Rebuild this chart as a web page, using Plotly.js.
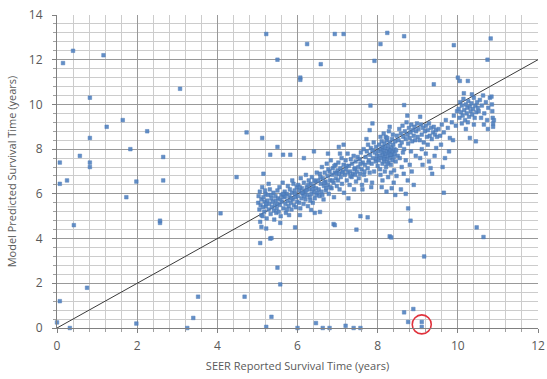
<!DOCTYPE html>
<html>
<head>
<meta charset="utf-8">
<script src="https://cdn.plot.ly/plotly-3.0.1.min.js"></script>
<style>html,body{margin:0;padding:0;background:#fff;}#chart{width:547px;height:379px;}</style>
</head>
<body>
<div id="chart"></div>
<script>
// Main cluster of patients (SEER reported, model predicted), years
const clusterPts = [
[5.02,5.6],[5.03,5.9],[5.05,5.3],[5.06,6.1],[5.08,5.5],[5.1,5.75],[5.1,5.05],[5.12,6.3],[5.14,5.4],[5.15,5.85],[5.17,5.2],[5.18,5.65],[5.2,6.0],[5.21,5.45],[5.23,4.9],[5.25,5.7],[5.26,5.95],[5.28,5.3],[5.3,5.55],[5.31,6.2],[5.33,5.1],[5.35,5.8],[5.36,5.4],[5.38,5.65],[5.4,6.05],[5.41,5.25],[5.43,5.5],[5.45,5.9],[5.46,5.7],[5.48,5.35],[5.5,6.15],[5.5,5.55],[5.07,4.75],[5.28,6.45],[5.42,4.85],[5.13,5.0],[5.22,5.55],[5.34,5.95],[5.47,5.15],[5.19,6.15],
[5.52,5.8],[5.53,5.2],[5.55,6.3],[5.56,5.5],[5.58,5.0],[5.6,5.95],[5.61,5.65],[5.63,6.5],[5.65,5.35],[5.66,5.85],[5.68,6.1],[5.7,5.55],[5.71,5.15],[5.73,6.0],[5.75,5.7],[5.76,6.35],[5.78,5.45],[5.8,5.9],[5.81,6.2],[5.83,5.6],[5.85,5.3],[5.86,6.05],[5.88,5.75],[5.9,6.45],[5.91,5.5],[5.93,6.15],[5.95,5.85],[5.96,5.4],[5.98,6.3],[5.99,5.65],[5.57,5.75],[5.69,5.9],[5.79,5.05],[5.87,6.6],[5.64,6.0],[5.74,5.3],[5.84,5.8],[5.94,6.0],
[6.01,5.9],[6.02,6.4],[6.04,5.6],[6.05,6.15],[6.07,5.35],[6.08,6.7],[6.1,5.8],[6.11,6.25],[6.13,6.0],[6.15,5.55],[6.16,6.5],[6.18,6.1],[6.2,5.75],[6.21,6.85],[6.23,6.3],[6.25,5.95],[6.26,5.45],[6.28,6.6],[6.3,6.2],[6.31,5.85],[6.33,6.45],[6.35,6.0],[6.36,6.75],[6.38,5.6],[6.4,6.35],[6.41,6.1],[6.43,5.8],[6.45,6.55],[6.46,6.25],[6.48,6.95],[6.5,6.05],[6.12,6.05],[6.22,6.15],[6.32,5.7],[6.42,6.6],[6.06,6.3],[6.17,5.9],[6.27,6.4],[6.37,6.2],[6.47,5.95],
[6.52,6.6],[6.53,6.2],[6.55,5.9],[6.56,6.9],[6.58,6.45],[6.6,6.1],[6.61,7.2],[6.63,6.7],[6.65,5.75],[6.66,6.35],[6.68,6.95],[6.7,6.55],[6.71,6.15],[6.73,7.35],[6.75,6.8],[6.76,6.4],[6.78,6.0],[6.8,7.0],[6.81,6.6],[6.83,7.5],[6.85,6.25],[6.86,6.85],[6.88,7.15],[6.9,6.5],[6.91,5.85],[6.93,6.95],[6.95,7.3],[6.96,6.7],[6.98,6.35],[7.0,7.05],[6.57,6.75],[6.67,6.5],[6.77,7.1],[6.87,6.6],[6.97,6.9],[6.62,5.95],[6.72,6.25],[6.82,6.3],[6.92,7.25],
[7.01,6.6],[7.02,7.4],[7.04,6.9],[7.05,6.2],[7.07,7.15],[7.08,6.75],[7.1,7.6],[7.11,6.45],[7.13,7.0],[7.15,7.3],[7.16,6.05],[7.18,6.85],[7.2,7.5],[7.21,7.1],[7.23,6.6],[7.25,7.8],[7.26,6.95],[7.28,7.25],[7.3,6.4],[7.31,7.0],[7.33,7.55],[7.35,6.75],[7.36,7.35],[7.38,6.9],[7.4,7.7],[7.41,6.2],[7.43,7.15],[7.45,7.45],[7.46,6.55],[7.48,7.0],[7.5,7.65],[7.12,6.95],[7.22,7.25],[7.32,6.8],[7.42,7.1],[7.06,7.8],[7.27,5.8],[7.44,6.85],
[7.52,7.2],[7.53,6.7],[7.55,7.55],[7.56,6.9],[7.58,7.85],[7.6,7.1],[7.61,6.4],[7.63,7.4],[7.65,8.0],[7.66,6.85],[7.68,7.3],[7.7,7.65],[7.71,6.6],[7.73,7.9],[7.75,7.15],[7.76,8.2],[7.78,7.5],[7.8,6.95],[7.81,7.75],[7.83,8.05],[7.85,7.35],[7.86,6.5],[7.88,7.6],[7.9,8.3],[7.91,7.0],[7.93,7.85],[7.95,7.45],[7.96,8.1],[7.98,7.7],[8.0,7.25],[7.57,7.35],[7.67,7.0],[7.77,7.4],[7.87,7.95],[7.97,7.55],[7.62,6.2],[7.84,6.3],[7.72,8.45],
[8.02,7.9],[8.03,7.5],[8.04,8.2],[8.05,7.7],[8.06,7.1],[8.08,8.0],[8.09,7.6],[8.1,8.35],[8.11,7.85],[8.12,7.35],[8.13,8.1],[8.14,7.75],[8.15,7.95],[8.16,7.45],[8.17,8.25],[8.18,7.65],[8.19,8.05],[8.2,7.8],[8.21,7.2],[8.22,8.4],[8.23,7.55],[8.24,7.9],[8.25,8.15],[8.26,7.7],[8.27,7.4],[8.28,8.0],[8.29,7.85],[8.3,8.3],[8.31,7.6],[8.32,7.95],[8.33,7.3],[8.34,8.1],[8.35,7.75],[8.36,8.45],[8.37,7.5],[8.38,7.9],[8.39,8.2],[8.4,7.65],[8.41,7.05],[8.42,8.0],[8.43,7.8],[8.44,8.35],[8.45,7.45],[8.46,7.95],[8.48,8.6],[8.5,7.7],[8.07,6.85],[8.12,6.6],[8.18,7.0],[8.26,6.75],[8.33,6.95],[8.4,6.5],[8.47,6.8],[8.15,8.7],[8.28,8.8],[8.38,8.65],[8.1,6.3],[8.22,6.1],[8.35,6.25],[8.44,5.95],[8.16,7.55],[8.24,7.35],[8.32,7.75],[8.2,8.55],
[8.52,8.4],[8.54,8.9],[8.56,8.15],[8.58,8.7],[8.6,8.3],[8.62,9.05],[8.64,8.55],[8.66,8.0],[8.68,8.8],[8.7,8.45],[8.72,9.2],[8.74,8.65],[8.76,8.25],[8.78,8.95],[8.8,8.5],[8.82,8.75],[8.84,9.1],[8.86,8.35],[8.88,8.85],[8.9,8.6],[8.92,9.0],[8.94,8.4],[8.96,8.8],[8.98,9.15],[9.0,8.55],[8.55,7.6],[8.6,7.2],[8.65,6.9],[8.7,7.5],[8.75,6.6],[8.8,7.3],[8.85,7.0],[8.9,6.4],[8.95,7.7],[8.58,6.2],[8.7,6.0],[8.83,7.9],[8.63,7.85],
[9.02,8.9],[9.05,8.4],[9.08,9.1],[9.1,8.65],[9.13,8.95],[9.15,8.3],[9.18,8.8],[9.2,9.05],[9.23,8.55],[9.25,8.85],[9.28,9.15],[9.3,8.6],[9.33,8.95],[9.35,8.45],[9.38,8.75],[9.4,9.0],[9.43,8.65],[9.45,8.85],[9.48,8.55],[9.06,7.6],[9.12,7.3],[9.2,7.8],[9.28,7.45],[9.32,7.15],[9.36,6.9],[9.42,7.7],[9.46,8.05],[9.1,8.0],[9.25,8.2],
[9.52,8.9],[9.56,8.6],[9.6,9.1],[9.65,8.75],[9.7,9.3],[9.75,8.95],[9.8,8.5],[9.85,9.2],[9.9,9.5],[9.95,9.05],[9.58,8.2],[9.68,7.6],[9.78,7.9],[9.88,8.4],[9.62,7.2],[9.98,9.7],
[10.02,9.8],[10.04,9.4],[10.06,10.1],[10.08,9.65],[10.1,9.95],[10.12,9.5],[10.14,10.25],[10.16,9.75],[10.18,9.3],[10.2,10.0],[10.22,9.6],[10.24,9.85],[10.26,10.15],[10.28,9.45],[10.3,9.9],[10.32,9.7],[10.34,10.05],[10.36,9.55],[10.38,9.8],[10.4,10.3],[10.42,9.4],[10.44,9.95],[10.46,9.65],[10.48,10.1],[10.5,9.85],[10.1,9.15],[10.2,8.9],[10.3,8.5],[10.4,9.1],[10.45,8.35],[10.15,10.5],[10.35,10.45],[10.25,9.2],
[10.52,9.7],[10.55,10.2],[10.58,9.4],[10.6,9.95],[10.63,10.4],[10.66,9.6],[10.7,10.1],[10.73,9.3],[10.76,9.85],[10.8,10.3],[10.84,10.35],[10.85,10.0],[10.86,9.7],[10.87,9.4],[10.88,9.15],[10.88,9.0],[10.9,9.3],[10.65,9.1],[10.75,8.9]
];
// Scattered patients away from the main cluster
const outlierPts = [
[0.15,11.85],[0.4,12.4],[1.16,12.2],[0.82,10.3],[3.07,10.7],[1.64,9.3],[1.24,9.0],[2.25,8.8],[0.82,8.5],[1.83,8.0],[0.57,7.7],[0.07,7.4],[0.82,7.4],[0.82,7.2],[2.65,7.65],[0.25,6.6],[0.07,6.45],[1.98,6.55],[2.65,6.6],[1.73,5.85],[0.42,4.6],[2.57,4.7],[2.57,4.8],[0.75,1.8],[0.07,1.2],[0.0,0.25],[0.32,0.0],[1.98,0.2],[3.25,0.0],[3.4,0.45],[3.52,1.4],
[5.22,13.15],[6.93,13.15],[7.15,13.15],[8.24,13.2],[8.66,13.05],[9.9,12.65],[10.82,12.95],[6.24,12.7],[8.07,12.7],[5.5,12.0],[6.58,11.8],[7.92,11.95],[10.74,12.0],[6.07,11.2],[6.07,11.1],[7.82,9.95],[4.73,8.75],[5.12,8.5],[5.5,8.1],[5.32,7.75],[5.64,7.75],[5.82,7.75],[6.16,7.6],[6.41,7.9],[6.76,7.8],[7.03,8.1],[7.15,8.2],[4.48,6.75],[5.15,6.9],[7.8,8.85],[7.87,9.15],[8.3,9.0],[8.24,8.5],[8.07,8.55],
[9.4,10.9],[10.0,11.2],[10.05,11.05],[10.25,11.05],[8.66,9.97],[8.74,9.5],[9.06,9.45],
[9.65,6.05],[8.76,5.35],[8.82,4.8],[8.3,4.1],[8.34,4.05],[10.47,4.5],[10.64,4.07],[9.16,3.2],[8.66,0.7],[8.89,0.85],[8.76,0.27],[9.1,0.27],[9.1,0.05],
[4.08,5.13],[4.68,1.4],[5.07,3.8],[5.32,4.0],[5.22,4.45],[5.57,4.7],[5.94,4.5],[5.5,2.7],[5.57,1.95],[5.35,0.5],[5.22,0.05],[6.0,0.0],[6.46,0.22],[6.63,0.0],[6.8,0.0],[7.2,0.1],[7.4,0.0],[7.57,0.0],[6.9,4.65],[7.47,4.4],[7.57,5.0],[7.75,4.95],[6.43,5.15],[5.1,4.52],[5.35,4.02],[6.93,4.6],[6.34,5.28],[6.56,5.19],[6.06,5.05]
];
// Identity (y = x) reference line
const refX = [0, 12];
const refY = [0, 12];
// Highlighted point (red circle)
const highlightX = [9.1];
const highlightY = [0.16];

const allPts = clusterPts.concat(outlierPts);
const textColor = '#595959';
const fontFam = '"Open Sans", "Liberation Sans", sans-serif';

const traces = [
  {
    x: refX, y: refY, type: 'scatter', mode: 'lines',
    line: {color: '#3a3a3a', width: 1}, hoverinfo: 'skip'
  },
  {
    x: allPts.map(p => p[0]), y: allPts.map(p => p[1]),
    type: 'scatter', mode: 'markers', cliponaxis: false,
    marker: {symbol: 'square', size: 3.6, color: '#5283c2', opacity: 0.9, line: {color: '#4674b2', width: 0.5}}
  },
  {
    x: highlightX, y: highlightY, type: 'scatter', mode: 'markers', cliponaxis: false,
    marker: {symbol: 'circle-open', size: 19, color: '#e0323c', line: {width: 1.6, color: '#e0323c'}}
  }
];

const axisCommon = {
  dtick: 2, tick0: 0,
  showgrid: true, gridcolor: '#999999', gridwidth: 1,
  showline: true, linecolor: '#808080', linewidth: 1,
  ticks: 'outside', ticklen: 4, tickcolor: '#808080',
  zeroline: false,
  tickfont: {family: fontFam, size: 12, color: textColor},
  minor: {dtick: 0.4, showgrid: true, gridcolor: '#cccccc', gridwidth: 1, ticks: 'outside', ticklen: 3, tickcolor: '#a0a0a0'}
};

const layout = {
  width: 547, height: 379,
  margin: {l: 57, r: 9, t: 15, b: 51},
  paper_bgcolor: '#ffffff', plot_bgcolor: '#ffffff',
  showlegend: false,
  font: {family: fontFam, color: textColor},
  xaxis: Object.assign({}, axisCommon, {
    range: [0, 12],
    ticklabelstandoff: 3,
    title: {text: 'SEER Reported Survival Time (years)', font: {family: fontFam, size: 11, color: textColor}, standoff: 8}
  }),
  yaxis: Object.assign({}, axisCommon, {
    range: [0, 14],
    ticklabelstandoff: 7,
    title: {text: 'Model Predicted Survival Time (years)', font: {family: fontFam, size: 11, color: textColor}, standoff: 10}
  })
};

Plotly.newPlot('chart', traces, layout, {displayModeBar: false, staticPlot: true});
</script>
</body>
</html>
